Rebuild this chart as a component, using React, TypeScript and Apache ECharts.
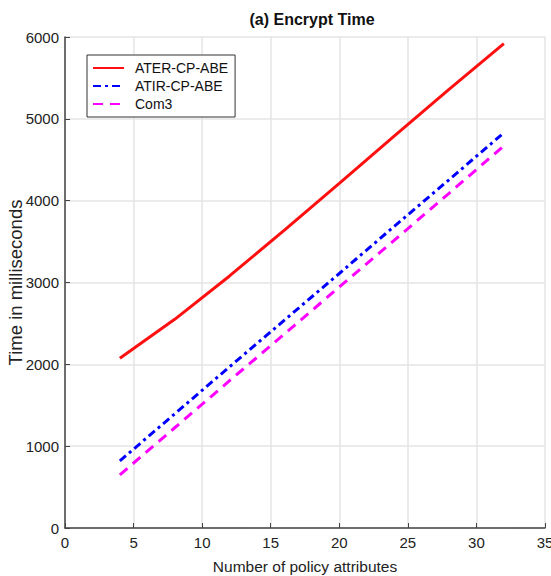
import React, { useEffect, useRef } from "react";
import * as echarts from "echarts";

const xValues = [4, 8, 12, 16, 20, 24, 28, 32];
const aterValues = [2075, 2550, 3080, 3640, 4210, 4790, 5360, 5920];
const atirValues = [820, 1395, 1970, 2540, 3110, 3685, 4255, 4830];
const com3Values = [650, 1225, 1800, 2370, 2945, 3515, 4090, 4670];
const seriesNames = ["ATER-CP-ABE", "ATIR-CP-ABE", "Com3"];

const pairs = (ys: number[]) => xValues.map((x, i) => [x, ys[i]]);

export default function App() {
  const ref = useRef<HTMLDivElement>(null);
  useEffect(() => {
    if (!ref.current) return;
    const chart = echarts.init(ref.current, undefined, { renderer: "svg" });
    const font = "'Liberation Sans', Arial, sans-serif";
    chart.setOption({
      animation: false,
      backgroundColor: "#ffffff",
      textStyle: { fontFamily: font },
      title: {
        text: "(a) Encrypt Time",
        left: 307,
        top: 6,
        textAlign: "center",
        textStyle: { fontSize: 16, fontWeight: "bold", color: "#111", fontFamily: font },
      },
      grid: { left: 65, right: 6, top: 37, bottom: 48, containLabel: false, outerBoundsMode: "none" },
      legend: {
        orient: "vertical",
        left: 87,
        top: 55,
        padding: [6, 7, 6, 5],
        itemGap: 4,
        itemWidth: 31,
        itemHeight: 14,
        borderColor: "#333",
        borderWidth: 1,
        backgroundColor: "#fff",
        itemStyle: { opacity: 0 },
        textStyle: { fontSize: 14, color: "#111", fontFamily: font, padding: [0, 0, 0, 6] },
        data: seriesNames,
      },
      xAxis: {
        type: "value",
        min: 0,
        max: 35,
        interval: 5,
        name: "Number of policy attributes",
        nameLocation: "middle",
        nameGap: 30,
        nameMoveOverlap: false,
        nameTextStyle: { fontSize: 15.5, color: "#222" },
        axisLine: { lineStyle: { color: "#444", width: 1.5 } },
        axisTick: { inside: true, length: 5, lineStyle: { color: "#444" } },
        axisLabel: { fontSize: 15, color: "#222", margin: 7 },
        splitLine: { show: true, lineStyle: { color: "#e4e4e4", width: 1.5 } },
      },
      yAxis: {
        type: "value",
        min: 0,
        max: 6000,
        interval: 1000,
        name: "Time in milliseconds",
        nameLocation: "middle",
        nameGap: 40,
        nameMoveOverlap: false,
        nameTextStyle: { fontSize: 18.5, color: "#222" },
        axisLine: { show: true, lineStyle: { color: "#444", width: 1.5 } },
        axisTick: { show: true, inside: true, length: 5, lineStyle: { color: "#444" } },
        axisLabel: { fontSize: 15, color: "#222", margin: 6, formatter: (v: number) => String(v) },
        splitLine: { show: true, lineStyle: { color: "#e4e4e4", width: 1.5 } },
      },
      series: [
        {
          name: seriesNames[0],
          type: "line",
          data: pairs(aterValues),
          symbol: "none",
          itemStyle: { color: "#ff1010" },
          lineStyle: { color: "#ff1010", width: 3 },
        },
        {
          name: seriesNames[1],
          type: "line",
          data: pairs(atirValues),
          symbol: "none",
          itemStyle: { color: "#0000ff" },
          lineStyle: { color: "#0000ff", width: 3, type: [8, 4, 3, 4] },
        },
        {
          name: seriesNames[2],
          type: "line",
          data: pairs(com3Values),
          symbol: "none",
          itemStyle: { color: "#ff00ff" },
          lineStyle: { color: "#ff00ff", width: 3, type: [10, 7] },
        },
      ],
    });
    return () => chart.dispose();
  }, []);
  return <div ref={ref} style={{ width: 551, height: 576, position: "absolute", left: 0, top: 0 }} />;
}
